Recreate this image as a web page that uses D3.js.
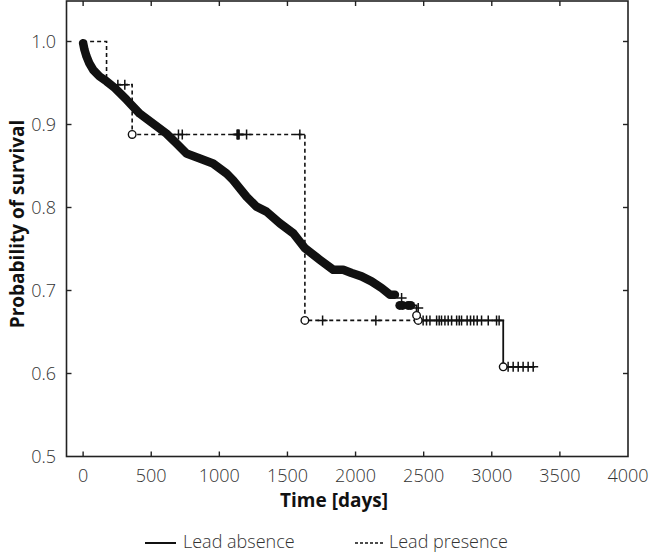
<!DOCTYPE html>
<html><head><meta charset="utf-8">
<script src="https://cdn.jsdelivr.net/npm/d3@7"></script>
<style>
html,body{margin:0;padding:0;background:#fff;overflow:hidden;}
svg{display:block;}
text{font-family:"Open Sans",sans-serif;}
</style></head>
<body><div id="chart"></div>
<script>
// ---- data ----
const xTicks = [0, 500, 1000, 1500, 2000, 2500, 3000, 3500, 4000];
const yTicks = [0.5, 0.6, 0.7, 0.8, 0.9, 1.0];
const yTickLabels = ["0.5", "0.6", "0.7", "0.8", "0.9", "1.0"];

// Lead absence: dense event curve
const absenceTime = [0, 10, 25, 45, 73, 120, 172, 233, 318, 416, 514, 612, 686, 759, 857, 954, 1053, 1101, 1200, 1273, 1346, 1444, 1542, 1628, 1738, 1836, 1909, 1971, 2044, 2117, 2191, 2252, 2289];
const absenceSurv = [0.998, 0.99, 0.982, 0.974, 0.966, 0.958, 0.952, 0.944, 0.930, 0.913, 0.901, 0.889, 0.877, 0.865, 0.859, 0.853, 0.841, 0.833, 0.813, 0.801, 0.795, 0.781, 0.769, 0.751, 0.737, 0.725, 0.725, 0.721, 0.717, 0.711, 0.703, 0.695, 0.695];
// isolated event blobs
const absenceBlobTime = [2325, 2345, 2386, 2405];
const absenceBlobSurv = [0.682, 0.682, 0.682, 0.682];
// tail step function
const absenceTailTime = [2405, 2448, 2448, 2472, 3084, 3084, 3316];
const absenceTailSurv = [0.682, 0.682, 0.670, 0.664, 0.664, 0.608, 0.608];
const absenceEventTime = [2448, 3084];
const absenceEventSurv = [0.670, 0.608];
const absenceCensorTime = [2338, 2460, 2496, 2521, 2546, 2595, 2614, 2631, 2656, 2680, 2705, 2742, 2761, 2778, 2819, 2844, 2868, 2893, 2925, 2974, 3035, 3054, 3120, 3157, 3194, 3230, 3267, 3304];
const absenceCensorSurv = [0.691, 0.679, 0.664, 0.664, 0.664, 0.664, 0.664, 0.664, 0.664, 0.664, 0.664, 0.664, 0.664, 0.664, 0.664, 0.664, 0.664, 0.664, 0.664, 0.664, 0.664, 0.664, 0.608, 0.608, 0.608, 0.608, 0.608, 0.608];

// Lead presence (dashed step)
const presenceTime = [0, 172, 172, 360, 360, 1628, 1628, 2470];
const presenceSurv = [1.0, 1.0, 0.948, 0.948, 0.888, 0.888, 0.664, 0.664];
const presenceEventTime = [360, 1628, 2460];
const presenceEventSurv = [0.888, 0.664, 0.664];
const presenceCensorTime = [255, 306, 700, 728, 1130, 1135, 1140, 1145, 1200, 1591, 1758, 2149];
const presenceCensorSurv = [0.948, 0.948, 0.888, 0.888, 0.888, 0.888, 0.888, 0.888, 0.888, 0.888, 0.664, 0.664];

const seriesNames = ["Lead absence", "Lead presence"];

// ---- layout ----
const W = 654, H = 553;
const L = 66.5, R = 628, T = 1, B = 456.5;
const svg = d3.select("#chart").append("svg").attr("width", W).attr("height", H);

const x = d3.scaleLinear().domain([-122, 4000]).range([L, R]);
const y = d3.scaleLinear().domain([0.5, 1.0]).range([B, 41.5]);

const ink = "#111";

// frame
svg.append("rect").attr("x", L).attr("y", T).attr("width", R - L).attr("height", B - T)
  .attr("fill", "none").attr("stroke", "#222").attr("stroke-width", 1.6);

// ticks (inward on all sides)
const tl = 5;
const tg = svg.append("g").attr("stroke", "#222").attr("stroke-width", 1.4);
xTicks.filter(v => v < 4000).forEach(v => {
  tg.append("line").attr("x1", x(v)).attr("x2", x(v)).attr("y1", B).attr("y2", B - tl);
  tg.append("line").attr("x1", x(v)).attr("x2", x(v)).attr("y1", T).attr("y2", T + tl);
});
yTicks.filter(v => v > 0.5).forEach(v => {
  tg.append("line").attr("x1", L).attr("x2", L + tl).attr("y1", y(v)).attr("y2", y(v));
  tg.append("line").attr("x1", R).attr("x2", R - tl).attr("y1", y(v)).attr("y2", y(v));
});

// tick labels
svg.append("g").selectAll("text").data(xTicks).join("text")
  .attr("x", d => x(d)).attr("y", 482).attr("text-anchor", "middle")
  .attr("font-size", 18).attr("font-weight", 300).attr("fill", "#333").text(d => d);
svg.append("g").selectAll("text").data(yTicks).join("text")
  .attr("x", 56).attr("y", d => y(d)).attr("dy", "0.36em").attr("text-anchor", "end")
  .attr("font-size", 18).attr("font-weight", 300).attr("fill", "#333").text((d, i) => yTickLabels[i]);

// axis titles
svg.append("text").attr("x", 334).attr("y", 507).attr("text-anchor", "middle")
  .attr("font-size", 19).attr("font-weight", 700).attr("fill", ink).text("Time [days]");
svg.append("text").attr("transform", "translate(24,224) rotate(-90)").attr("text-anchor", "middle")
  .attr("font-size", 19).attr("font-weight", 700).attr("fill", ink).text("Probability of survival");

const line = d3.line().x(d => x(d[0])).y(d => y(d[1]));
const zip = (a, b) => a.map((v, i) => [v, b[i]]);

// clip
svg.append("clipPath").attr("id", "clip").append("rect").attr("x", L).attr("y", T).attr("width", R - L).attr("height", B - T);
const g = svg.append("g").attr("clip-path", "url(#clip)");

// presence dashed
g.append("path").attr("d", line(zip(presenceTime, presenceSurv)))
  .attr("fill", "none").attr("stroke", ink).attr("stroke-width", 1.6).attr("stroke-dasharray", "4,3");

// absence tail
g.append("path").attr("d", line(zip(absenceTailTime, absenceTailSurv)))
  .attr("fill", "none").attr("stroke", ink).attr("stroke-width", 1.8);

// absence dense curve
g.append("path").attr("d", line(zip(absenceTime, absenceSurv)))
  .attr("fill", "none").attr("stroke", ink).attr("stroke-width", 8.5)
  .attr("stroke-linecap", "round").attr("stroke-linejoin", "round");
g.selectAll("circle.blob").data(zip(absenceBlobTime, absenceBlobSurv)).join("circle")
  .attr("class", "blob").attr("cx", d => x(d[0])).attr("cy", d => y(d[1])).attr("r", 4.5).attr("fill", ink);

// censor marks
const plus = (sel, pts, s) => {
  sel.selectAll(null).data(pts).join("path")
    .attr("d", d => `M${x(d[0]) - s},${y(d[1])}H${x(d[0]) + s}M${x(d[0])},${y(d[1]) - s}V${y(d[1]) + s}`)
    .attr("stroke", ink).attr("stroke-width", 1.5).attr("fill", "none");
};
plus(g, zip(presenceCensorTime, presenceCensorSurv), 5);
plus(g, zip(absenceCensorTime, absenceCensorSurv), 5);

// event open circles
g.selectAll(null).data(zip(presenceEventTime, presenceEventSurv).concat(zip(absenceEventTime, absenceEventSurv))).join("circle")
  .attr("cx", d => x(d[0])).attr("cy", d => y(d[1])).attr("r", 3.8)
  .attr("fill", "#fff").attr("stroke", ink).attr("stroke-width", 1.4);

// legend
const lg = svg.append("g");
lg.append("line").attr("x1", 145).attr("x2", 176).attr("y1", 543).attr("y2", 543).attr("stroke", ink).attr("stroke-width", 2);
lg.append("text").attr("x", 183).attr("y", 548).attr("font-size", 18).attr("font-weight", 300).attr("fill", "#333").text(seriesNames[0]);
lg.append("line").attr("x1", 355).attr("x2", 383).attr("y1", 543).attr("y2", 543).attr("stroke", ink).attr("stroke-width", 1.6).attr("stroke-dasharray", "3,2");
lg.append("text").attr("x", 389).attr("y", 548).attr("font-size", 18).attr("font-weight", 300).attr("fill", "#333").text(seriesNames[1]);
</script></body></html>
